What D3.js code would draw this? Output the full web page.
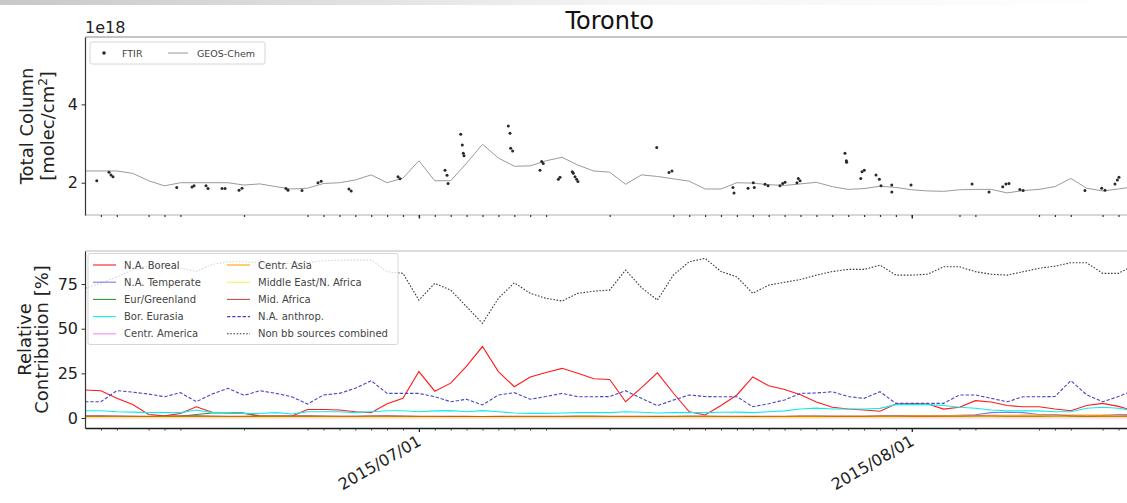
<!DOCTYPE html>
<html>
<head>
<meta charset="utf-8">
<script src="https://cdn.jsdelivr.net/npm/d3@7"></script>
<style>
  body { margin: 0; background: #fff; }
  svg { display: block; font-family: "DejaVu Sans", sans-serif; }
</style>
</head>
<body>
<svg id="chart" width="1127" height="503"></svg>
<script>
// ---- time axis ----
const xStart = "2015-06-10", xEnd = "2015-08-15";
const modelStart = "2015-06-10", modelStop = "2015-08-16"; // daily model output, stop exclusive
const majorTickDates = ["2015-07-01", "2015-08-01"];
const minorTickDates = [
  "2015-06-11","2015-06-12","2015-06-14","2015-06-15","2015-06-16","2015-06-20",
  "2015-06-24","2015-06-25","2015-06-26","2015-06-27","2015-06-28","2015-06-29","2015-06-30",
  "2015-07-01","2015-07-02","2015-07-03","2015-07-04","2015-07-05","2015-07-06","2015-07-07",
  "2015-07-08","2015-07-09","2015-07-13","2015-07-17","2015-07-18","2015-07-19","2015-07-20",
  "2015-07-21","2015-07-22","2015-07-23","2015-07-24","2015-07-25","2015-07-26","2015-07-27",
  "2015-07-28","2015-07-29","2015-07-30","2015-07-31","2015-08-01","2015-08-04","2015-08-05",
  "2015-08-09","2015-08-10","2015-08-11","2015-08-13","2015-08-14"
];

// ---- total column (1e18 molec/cm2) ----
const ftirTimes = [
  "2015-06-10T17:45","2015-06-11T12:15","2015-06-11T15:15","2015-06-11T18:15",
  "2015-06-15T18:30","2015-06-16T17:30","2015-06-16T20:35","2015-06-17T14:40","2015-06-17T17:40",
  "2015-06-18T14:50","2015-06-18T19:25","2015-06-19T16:30","2015-06-19T21:00",
  "2015-06-22T15:20","2015-06-22T18:25","2015-06-23T15:35","2015-06-24T15:40","2015-06-24T20:25",
  "2015-06-26T14:25","2015-06-26T17:50","2015-06-29T16:30","2015-06-29T19:30",
  "2015-07-02T15:25","2015-07-02T18:25","2015-07-02T20:00",
  "2015-07-03T15:10","2015-07-03T17:30","2015-07-03T19:00","2015-07-03T20:05",
  "2015-07-06T15:00","2015-07-06T17:30","2015-07-06T18:30","2015-07-06T21:30",
  "2015-07-08T14:50","2015-07-08T17:20","2015-07-08T19:40","2015-07-09T18:30","2015-07-09T21:00",
  "2015-07-10T15:35","2015-07-10T17:05","2015-07-10T19:40","2015-07-10T22:05","2015-07-11T00:00",
  "2015-07-15T23:00","2015-07-16T17:30","2015-07-16T22:00",
  "2015-07-20T18:00","2015-07-20T19:40","2015-07-21T16:50","2015-07-22T00:45","2015-07-22T02:10",
  "2015-07-22T18:30","2015-07-22T23:00","2015-07-23T17:00","2015-07-23T21:05","2015-07-24T00:40",
  "2015-07-24T18:40","2015-07-24T20:40","2015-07-24T23:20",
  "2015-07-27T19:10","2015-07-27T21:10","2015-07-27T21:40",
  "2015-07-28T19:00","2015-07-28T20:50","2015-07-29T00:15",
  "2015-07-29T18:00","2015-07-29T23:00","2015-07-30T01:30","2015-07-30T17:45","2015-07-30T17:50",
  "2015-07-31T22:50","2015-08-04T19:00","2015-08-05T20:35",
  "2015-08-06T17:15","2015-08-06T22:05","2015-08-07T02:40","2015-08-07T19:10","2015-08-08T00:00",
  "2015-08-11T21:20","2015-08-12T22:35","2015-08-13T03:40",
  "2015-08-13T18:40","2015-08-13T22:20","2015-08-14T00:45"
];
const ftirValues = [
  2.05, 2.27, 2.20, 2.15,
  1.88, 1.89, 1.92, 1.92, 1.85,
  1.85, 1.85, 1.81, 1.86,
  1.85, 1.81, 1.80, 2.00, 2.04,
  1.84, 1.79, 2.15, 2.10,
  2.32, 2.19, 1.98,
  3.24, 2.96, 2.75, 2.69,
  3.45, 3.26, 2.88, 2.81,
  2.32, 2.54, 2.49, 2.09, 2.14,
  2.28, 2.24, 2.15, 2.09, 2.03,
  2.90, 2.26, 2.30,
  1.88, 1.74, 1.86, 2.00, 1.88,
  1.96, 1.92, 1.92, 1.98, 2.01,
  2.00, 2.11, 2.05,
  2.75, 2.56, 2.52,
  2.11, 2.28, 2.32,
  2.20, 2.09, 1.92, 1.94, 1.76,
  1.94, 1.97, 1.76,
  1.90, 1.97, 1.98, 1.83, 1.80,
  1.80, 1.86, 1.81,
  1.97, 2.07, 2.14
];
const geosChem = [
  2.30, 2.30, 2.30, 2.24, 2.05, 1.92, 2.00, 2.00, 2.00, 2.00,
  1.94, 1.97, 1.90, 1.84, 1.86, 1.98, 2.00, 2.07, 2.20, 2.00,
  2.12, 2.56, 2.05, 2.05, 2.50, 2.98, 2.63, 2.42, 2.43, 2.56,
  2.65, 2.45, 2.30, 2.27, 1.96, 2.20, 2.16, 2.10, 2.04, 1.84,
  1.84, 2.00, 1.99, 1.95, 1.93, 1.97, 2.01, 1.90, 1.83, 1.85,
  1.91, 1.88, 1.82, 1.79, 1.78, 1.82, 1.83, 1.83, 1.74, 1.80,
  1.83, 1.90, 2.11, 1.86, 1.79, 1.84, 1.90
];

// ---- relative contribution (%) per source region, daily ----
const naBoreal = [
  15.7, 15.3, 11, 7.5, 2, 1.2, 2.5, 6.3, 3.2, 3,
  2.6, 1.2, 1.1, 1, 4.8, 4.8, 4.5, 3.5, 3, 8,
  11, 26, 15, 19.5, 29, 40, 26, 17.5, 23, 25.5,
  27.8, 25, 22, 21.6, 9.1, 17, 25.3, 14, 3.5, 1.7,
  7, 12.9, 23, 18, 16, 13, 9, 6, 5, 4.5,
  3.8, 7.8, 8, 7.8, 5, 6, 9.7, 9, 7, 6.3,
  6.3, 5, 4.1, 7, 8.2, 6.5, 4
];
const naTemperate = [
  1.0, 1.0, 1.0, 0.9, 0.8, 0.8, 0.9, 0.9, 0.8, 0.8,
  0.8, 0.9, 0.9, 0.8, 0.9, 1.0, 1.0, 1.0, 1.1, 1.0,
  0.9, 0.8, 0.8, 0.8, 0.7, 0.6, 0.7, 0.8, 0.8, 0.8,
  0.8, 0.8, 0.8, 0.8, 0.8, 0.7, 0.7, 0.8, 0.8, 0.8,
  0.8, 0.8, 0.7, 0.8, 0.8, 0.9, 0.9, 0.9, 1.0, 1.0,
  1.1, 1.2, 1.2, 1.2, 1.3, 1.5, 1.8, 3.0, 3.2, 3.0,
  2.0, 2.0, 1.2, 1.0, 1.4, 2.0, 2.0
];
const eurGreenland = [
  0.5, 0.5, 0.4, 0.4, 0.5, 0.6, 1.0, 2.0, 2.8, 2.9,
  2.8, 0.8, 0.5, 0.4, 0.4, 0.4, 0.3, 0.3, 0.3, 0.3,
  0.4, 0.4, 0.4, 0.3, 0.3, 0.3, 0.3, 0.3, 0.3, 0.3,
  0.3, 0.3, 0.3, 0.3, 0.3, 0.3, 0.3, 0.3, 0.3, 0.3,
  0.3, 0.3, 0.3, 0.3, 0.3, 0.3, 0.3, 0.3, 0.3, 0.3,
  0.3, 0.3, 0.3, 0.3, 0.3, 0.4, 0.4, 0.4, 0.4, 0.4,
  0.4, 0.4, 0.4, 0.4, 0.4, 0.4, 0.4
];
const borEurasia = [
  4.1, 4.1, 3.5, 3.3, 3.0, 3.0, 3.0, 4.5, 3.0, 3.0,
  2.5, 2.5, 3.0, 2.2, 3.5, 3.5, 3.5, 3.0, 3.5, 4.1,
  4.1, 3.5, 4.0, 4.1, 3.5, 4.1, 3.5, 2.8, 2.6, 2.6,
  2.8, 3.0, 3.0, 3.0, 3.5, 3.2, 2.8, 3.0, 3.0, 3.0,
  3.2, 3.3, 3.0, 3.5, 4.0, 5.0, 5.5, 5.0, 5.0, 5.0,
  5.4, 7.5, 7.5, 7.5, 7.0, 6.0, 5.5, 4.5, 4.0, 4.0,
  4.0, 3.5, 3.5, 5.5, 6.0, 5.5, 4.0
];
const centrAmerica = [
  0.1, 0.1, 0.1, 0.1, 0.1, 0.1, 0.1, 0.1, 0.1, 0.1,
  0.1, 0.1, 0.1, 0.1, 0.1, 0.1, 0.1, 0.1, 0.1, 0.1,
  0.1, 0.1, 0.1, 0.1, 0.1, 0.1, 0.1, 0.1, 0.1, 0.1,
  0.1, 0.1, 0.1, 0.1, 0.1, 0.1, 0.1, 0.1, 0.1, 0.1,
  0.1, 0.1, 0.1, 0.1, 0.1, 0.1, 0.1, 0.1, 0.1, 0.1,
  0.1, 0.1, 0.1, 0.1, 0.1, 0.1, 0.1, 0.1, 0.1, 0.1,
  0.1, 0.1, 0.1, 0.1, 0.1, 0.1, 0.1
];
const centrAsia = [
  0.6, 0.6, 0.5, 0.5, 0.5, 0.5, 0.6, 0.6, 0.6, 0.5,
  0.5, 0.5, 0.5, 0.6, 0.6, 0.6, 0.5, 0.5, 0.5, 0.5,
  0.6, 0.6, 0.6, 0.6, 0.5, 0.5, 0.5, 0.5, 0.5, 0.6,
  0.6, 0.6, 0.6, 0.6, 0.6, 0.6, 0.5, 0.5, 0.5, 0.6,
  0.6, 0.7, 0.7, 0.7, 0.8, 0.8, 0.8, 0.9, 0.9, 1.0,
  1.0, 1.1, 1.2, 1.2, 1.3, 1.4, 1.4, 1.5, 1.5, 1.6,
  1.6, 1.7, 1.7, 1.6, 1.6, 1.5, 1.5
];
const midEastNAfrica = [
  0.3, 0.3, 0.2, 0.2, 0.2, 0.2, 0.3, 0.3, 0.2, 0.2,
  0.2, 0.2, 0.2, 0.3, 0.3, 0.2, 0.2, 0.2, 0.2, 0.2,
  0.2, 0.2, 0.2, 0.2, 0.2, 0.2, 0.2, 0.2, 0.2, 0.2,
  0.2, 0.2, 0.2, 0.2, 0.2, 0.2, 0.2, 0.2, 0.2, 0.2,
  0.2, 0.2, 0.2, 0.2, 0.2, 0.2, 0.2, 0.3, 0.3, 0.3,
  0.3, 0.3, 0.3, 0.3, 0.3, 0.3, 0.3, 0.3, 0.3, 0.3,
  0.3, 0.3, 0.3, 0.3, 0.3, 0.3, 0.3
];
const midAfrica = [
  1.2, 1.2, 1.1, 1.0, 1.0, 1.1, 1.2, 1.2, 1.1, 1.0,
  1.0, 1.1, 1.1, 1.2, 1.2, 1.1, 1.0, 1.0, 1.1, 1.2,
  1.1, 1.0, 1.0, 0.9, 0.9, 0.8, 0.9, 1.0, 1.0, 1.0,
  1.0, 1.1, 1.1, 1.0, 1.0, 1.0, 0.9, 1.0, 1.1, 1.1,
  1.0, 1.0, 0.9, 1.0, 1.0, 1.1, 1.1, 1.0, 1.0, 1.0,
  1.1, 1.1, 1.0, 1.0, 1.0, 1.0, 1.1, 1.1, 1.0, 1.0,
  1.0, 1.1, 1.1, 1.0, 1.0, 1.0, 1.1
];
const naAnthrop = [
  9.1, 9.1, 15.3, 14.5, 13.4, 11.9, 14.2, 9.1, 13.4, 16.6,
  12.7, 15.3, 13.8, 11.9, 7.8, 12.9, 13.8, 16.6, 20.9, 13.8,
  13.8, 13.8, 11.9, 9.1, 10.5, 7.3, 12.9, 14.2, 10.5, 12,
  13.8, 11.9, 11.9, 12, 15.3, 11, 6.9, 10, 12.9, 12,
  11.9, 11.9, 6.3, 8, 10.1, 13.8, 14, 14.7, 12, 11,
  14.7, 8.2, 8.2, 8.2, 8.2, 12.9, 12.9, 11, 9.1, 11.9,
  11.9, 12, 20.9, 13, 9.1, 12, 15.7
];
const nonBbCombined = [
  72.6, 75.5, 79, 83, 85, 85, 84, 82, 86, 87.5,
  87.5, 87, 86.5, 86.5, 87, 88, 88.4, 88.4, 88.4, 81.9,
  81, 66, 75.4, 71.6, 62.3, 53, 67, 75.7, 69.8, 67,
  65.5, 69.8, 71, 71.6, 82.8, 73, 66, 80, 87.5, 89.4,
  82, 79, 69.8, 74.4, 76, 77.5, 80, 82, 83.2, 83.2,
  85.6, 80, 80, 80.5, 84.7, 84.7, 81.9, 80.5, 80, 81.9,
  83.8, 85, 86.9, 86.9, 81, 81, 85.6
];

const regionNames = [
  "N.A. Boreal", "N.A. Temperate", "Eur/Greenland", "Bor. Eurasia", "Centr. America",
  "Centr. Asia", "Middle East/N. Africa", "Mid. Africa", "N.A. anthrop.", "Non bb sources combined"
];
const regionValues = [
  naBoreal, naTemperate, eurGreenland, borEurasia, centrAmerica,
  centrAsia, midEastNAfrica, midAfrica, naAnthrop, nonBbCombined
];
const regionColors = [
  "#ff1a1a", "#7c7cec", "#2f962f", "#10ecec", "#f08ef0",
  "#ffa500", "#f7ef5a", "#c0504d", "#4646c4", "#3a3a3a"
];
const regionDash = [null, null, null, null, null, null, null, null, "3.4,1.8", "1.6,1.6"];

// ---- layout ----
const svg = d3.select("#chart");
const W = 1127, H = 503;
const left = 85, right = 1134.4;
const top1 = 37, bottom1 = 215;
const top2 = 251, bottom2 = 428;

const parseDay = d3.utcParse("%Y-%m-%d");
const parseTime = d3.utcParse("%Y-%m-%dT%H:%M");
const modelDays = d3.utcDay.range(parseDay(modelStart), parseDay(modelStop));

const x = d3.scaleUtc().domain([parseDay(xStart), parseDay(xEnd)]).range([left, right]);
const y1 = d3.scaleLinear().domain([1.176, 5.72]).range([bottom1, top1]);
const y2 = d3.scaleLinear().domain([-5.6, 93.5]).range([bottom2, top2]);

// faint band along the top edge of the page
const defs = svg.append("defs");
const grad = defs.append("linearGradient").attr("id", "topband");
grad.append("stop").attr("offset", "0%").attr("stop-color", "#c8c8c8");
grad.append("stop").attr("offset", "55%").attr("stop-color", "#f4f4f4");
grad.append("stop").attr("offset", "100%").attr("stop-color", "#ffffff");
svg.append("rect").attr("x", 0).attr("y", 0).attr("width", W).attr("height", 5)
  .attr("fill", "url(#topband)");

defs.append("clipPath").attr("id", "clip1").append("rect")
  .attr("x", left).attr("y", top1).attr("width", right - left).attr("height", bottom1 - top1);
defs.append("clipPath").attr("id", "clip2").append("rect")
  .attr("x", left).attr("y", top2).attr("width", right - left).attr("height", bottom2 - top2);

// title
svg.append("text").attr("x", (left + right) / 2).attr("y", 29)
  .attr("text-anchor", "middle").attr("font-size", 24).attr("fill", "#111").text("Toronto");

// ---------- top panel ----------
const g1 = svg.append("g");

// model line
g1.append("path")
  .datum(modelDays.map((d, i) => [d, geosChem[i]]))
  .attr("clip-path", "url(#clip1)")
  .attr("fill", "none").attr("stroke", "#9a9a9a").attr("stroke-width", 1)
  .attr("d", d3.line().x(d => x(d[0])).y(d => y1(d[1])));

// FTIR measurements
g1.append("g").attr("clip-path", "url(#clip1)")
  .selectAll("circle").data(ftirTimes.map((t, i) => [parseTime(t), ftirValues[i]]))
  .join("circle")
  .attr("cx", d => x(d[0])).attr("cy", d => y1(d[1])).attr("r", 1.5)
  .attr("fill", "#2a2a2a");

// spines
g1.append("line").attr("x1", left).attr("x2", right).attr("y1", top1).attr("y2", top1)
  .attr("stroke", "#8a8a8a").attr("stroke-width", 1);
g1.append("line").attr("x1", left).attr("x2", right).attr("y1", bottom1).attr("y2", bottom1)
  .attr("stroke", "#b0b0b0").attr("stroke-width", 1);

// y axis
const yAxis1 = g1.append("g").attr("transform", `translate(${left},0)`)
  .call(d3.axisLeft(y1).tickValues([2, 4]).tickFormat(d3.format("d")).tickSize(3.5).tickPadding(3.5).tickSizeOuter(0));
yAxis1.select(".domain").attr("stroke", "#333").attr("stroke-width", 1.2);
yAxis1.selectAll(".tick line").attr("stroke", "#333");
yAxis1.selectAll(".tick text").attr("font-size", 16).attr("fill", "#222")
  .attr("font-family", "DejaVu Sans");

// x minor ticks (no labels on the top panel)
const xMinor1 = g1.append("g").attr("transform", `translate(0,${bottom1})`)
  .call(d3.axisBottom(x).tickValues(minorTickDates.map(parseDay)).tickSize(2).tickFormat("").tickSizeOuter(0));
xMinor1.select(".domain").remove();
xMinor1.selectAll(".tick line").attr("stroke", "#333").attr("stroke-width", 1.2);
const xMajor1 = g1.append("g").attr("transform", `translate(0,${bottom1})`)
  .call(d3.axisBottom(x).tickValues(majorTickDates.map(parseDay)).tickSize(3.5).tickFormat("").tickSizeOuter(0));
xMajor1.select(".domain").remove();
xMajor1.selectAll(".tick line").attr("stroke", "#222").attr("stroke-width", 1.4);

// offset text and y label
svg.append("text").attr("x", left).attr("y", 33).attr("font-size", 16).attr("fill", "#222").text("1e18");
const yl1 = svg.append("text").attr("transform", `translate(33,${(top1 + bottom1) / 2}) rotate(-90)`)
  .attr("text-anchor", "middle").attr("font-size", 18).attr("fill", "#222");
yl1.append("tspan").attr("x", 0).attr("dy", 0).text("Total Column");
const yl1b = yl1.append("tspan").attr("x", 0).attr("dy", 21);
yl1b.append("tspan").text("[molec/cm");
yl1b.append("tspan").attr("font-size", 12).attr("dy", -7).text("2");
yl1b.append("tspan").attr("dy", 7).text("]");

// legend for the top panel
const lg1 = svg.append("g");
lg1.append("rect").attr("x", 90).attr("y", 42).attr("width", 175).attr("height", 22).attr("rx", 2)
  .attr("fill", "#fff").attr("fill-opacity", 0.8).attr("stroke", "#d6d6d6").attr("stroke-width", 1);
lg1.append("circle").attr("cx", 104).attr("cy", 53).attr("r", 1.8).attr("fill", "#2a2a2a");
lg1.append("text").attr("x", 122).attr("y", 56.5).attr("font-size", 9.5).attr("fill", "#444").text("FTIR");
lg1.append("line").attr("x1", 168).attr("x2", 188).attr("y1", 53).attr("y2", 53)
  .attr("stroke", "#9a9a9a").attr("stroke-width", 1);
lg1.append("text").attr("x", 197).attr("y", 56.5).attr("font-size", 9.5).attr("fill", "#444").text("GEOS-Chem");

// ---------- bottom panel ----------
const g2 = svg.append("g");
const line2 = d3.line().x(d => x(d[0])).y(d => y2(d[1]));
regionNames.forEach((name, k) => {
  g2.append("path")
    .datum(modelDays.map((d, i) => [d, regionValues[k][i]]))
    .attr("clip-path", "url(#clip2)")
    .attr("fill", "none")
    .attr("stroke", regionColors[k])
    .attr("stroke-width", 1.1)
    .attr("stroke-dasharray", regionDash[k])
    .attr("d", line2);
});

g2.append("line").attr("x1", left).attr("x2", right).attr("y1", top2).attr("y2", top2)
  .attr("stroke", "#b8b8b8").attr("stroke-width", 1);

const yAxis2 = g2.append("g").attr("transform", `translate(${left},0)`)
  .call(d3.axisLeft(y2).tickValues([0, 25, 50, 75]).tickSize(3.5).tickPadding(3.5).tickSizeOuter(0));
yAxis2.select(".domain").attr("stroke", "#333").attr("stroke-width", 1.2);
yAxis2.selectAll(".tick line").attr("stroke", "#333");
yAxis2.selectAll(".tick text").attr("font-size", 16).attr("fill", "#222")
  .attr("font-family", "DejaVu Sans");

const xMinor2 = g2.append("g").attr("transform", `translate(0,${bottom2})`)
  .call(d3.axisBottom(x).tickValues(minorTickDates.map(parseDay)).tickSize(2.5).tickFormat("").tickSizeOuter(0));
xMinor2.select(".domain").attr("stroke", "#1a1a1a").attr("stroke-width", 1.6);
xMinor2.selectAll(".tick line").attr("stroke", "#333").attr("stroke-width", 1);
const xMajor2 = g2.append("g").attr("transform", `translate(0,${bottom2})`)
  .call(d3.axisBottom(x).tickValues(majorTickDates.map(parseDay)).tickSize(4)
    .tickFormat(d3.utcFormat("%Y/%m/%d")).tickSizeOuter(0));
xMajor2.select(".domain").remove();
xMajor2.selectAll(".tick line").attr("stroke", "#222").attr("stroke-width", 1.2);
xMajor2.selectAll(".tick text")
  .attr("font-size", 16).attr("fill", "#222").attr("font-family", "DejaVu Sans")
  .attr("text-anchor", "end")
  .attr("x", -3).attr("y", 6).attr("dy", "0.75em")
  .attr("transform", "rotate(-30,-3,6)");

const yl2 = svg.append("text").attr("transform", `translate(31,${(top2 + bottom2) / 2}) rotate(-90)`)
  .attr("text-anchor", "middle").attr("font-size", 18).attr("fill", "#222");
yl2.append("tspan").attr("x", 0).attr("dy", 0).text("Relative");
yl2.append("tspan").attr("x", 0).attr("dy", 17).text("Contribution [%]");

// legend for the bottom panel (two columns of five)
const lg2 = svg.append("g");
lg2.append("rect").attr("x", 88).attr("y", 253.5).attr("width", 310).attr("height", 91).attr("rx", 2)
  .attr("fill", "#fff").attr("fill-opacity", 0.8).attr("stroke", "#d6d6d6").attr("stroke-width", 1);
const colX = [93, 227], rowY0 = 265, rowDY = 17.2;
regionNames.forEach((name, k) => {
  const c = Math.floor(k / 5), r = k % 5;
  const yy = rowY0 + r * rowDY;
  lg2.append("line").attr("x1", colX[c]).attr("x2", colX[c] + 23).attr("y1", yy).attr("y2", yy)
    .attr("stroke", regionColors[k]).attr("stroke-width", 1.1)
    .attr("stroke-dasharray", regionDash[k]);
  lg2.append("text").attr("x", colX[c] + 31).attr("y", yy + 3.6)
    .attr("font-size", 10).attr("fill", "#444").text(name);
});
</script>
</body>
</html>
